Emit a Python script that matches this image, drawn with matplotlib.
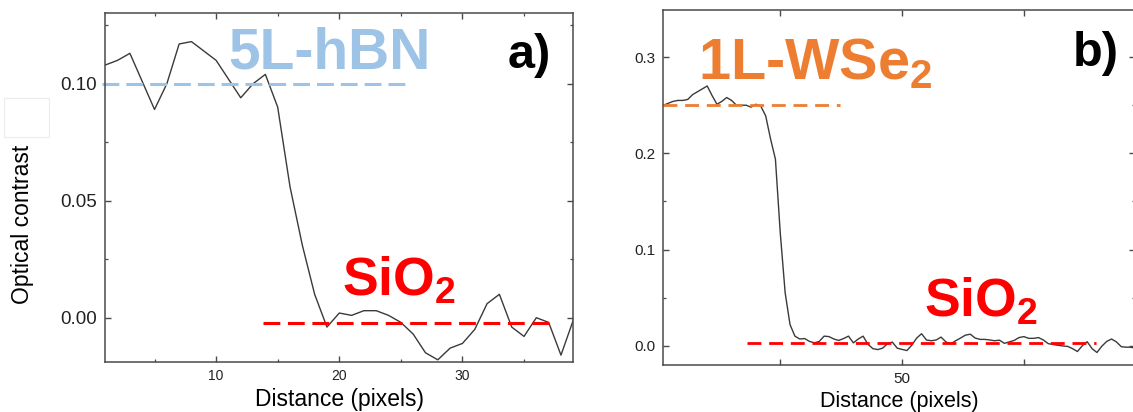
"""Optical contrast line profiles across 5L-hBN and 1L-WSe2 flake edges"""
import matplotlib
matplotlib.use('Agg')
import matplotlib.pyplot as plt
from matplotlib.ticker import MultipleLocator, FixedLocator, FixedFormatter
from matplotlib.patches import Rectangle

plt.rcParams['font.family'] = ['Liberation Sans', 'DejaVu Sans']
plt.rcParams['mathtext.fontset'] = 'custom'
plt.rcParams['mathtext.rm'] = 'Liberation Sans'
plt.rcParams['mathtext.bf'] = 'Liberation Sans:bold'

# profile a: 5L-hBN on SiO2
hbn_distance = list(range(1, 40))
hbn_contrast = [0.108, 0.110, 0.113, 0.101, 0.089, 0.100, 0.117, 0.118, 0.114, 0.110,
                0.102, 0.094, 0.100, 0.104, 0.090, 0.056, 0.031, 0.010, -0.004, 0.002,
                0.001, 0.003, 0.003, 0.001, -0.002, -0.007, -0.015, -0.018, -0.013, -0.011,
                -0.005, 0.006, 0.010, -0.004, -0.008, 0.000, -0.002, -0.016, -0.001]
hbn_level = 0.100
hbn_sio2_level = -0.0024

# profile b: 1L-WSe2 on SiO2
wse2_distance = list(range(1, 99))
wse2_contrast = [0.250, 0.252, 0.254, 0.255, 0.255, 0.256, 0.261, 0.264, 0.267, 0.270,
                 0.260, 0.251, 0.254, 0.258, 0.255, 0.250, 0.250, 0.250, 0.248, 0.251,
                 0.249, 0.239, 0.215, 0.194, 0.117, 0.055, 0.022, 0.010, 0.007, 0.0075,
                 0.0045, 0.003, 0.0045, 0.010, 0.0095, 0.007, 0.0055, 0.0075, 0.010, 0.003,
                 0.007, 0.010, 0.0015, -0.003, -0.004, -0.0025, 0.002, 0.0038, -0.0025, -0.0038,
                 -0.005, 0.0007, 0.008, 0.0125, 0.006, 0.0052, 0.006, 0.009, 0.004, 0.002,
                 0.0052, 0.008, 0.011, 0.012, 0.008, 0.0066, 0.0066, 0.006, 0.0052, 0.0058,
                 0.0025, 0.004, 0.0055, 0.0085, 0.0095, 0.0077, 0.0077, 0.0085, 0.006, 0.0022,
                 0.0013, 0.0005, -0.0002, -0.0007, -0.003, -0.006, 0.0, 0.0042, -0.003, -0.007,
                 -0.0005, 0.0045, 0.007, 0.004, -0.001, -0.0015, -0.0015, -0.003]
wse2_level = 0.250
wse2_sio2_level = 0.0025

LINE = '#3a3a3a'
SPINE = '#4a4a4a'
BLUE = '#9dc3e6'
ORANGE = '#ed7d31'
RED = '#ff0000'


def style_axes(ax, label_size):
    for s in ax.spines.values():
        s.set_color(SPINE)
        s.set_linewidth(1.1)
    ax.tick_params(which='both', direction='in', top=True, right=True,
                   color=SPINE, labelcolor='#222222', labelsize=label_size)
    ax.tick_params(which='major', length=4.5, width=1.0)
    ax.tick_params(which='minor', length=2.5, width=0.9)


fig = plt.figure(figsize=(11.33, 4.12), dpi=100)

# ---- panel a ----
ax1 = fig.add_axes([0.0929, 0.1221, 0.4131, 0.8456])
ax1.plot(hbn_distance, hbn_contrast, color=LINE, lw=1.0)
ax1.plot([0.7, 25.3], [hbn_level, hbn_level], color=BLUE, lw=2.2,
         dashes=(5.5, 2.3), clip_on=False)
ax1.plot([13.8, 37.0], [hbn_sio2_level, hbn_sio2_level], color=RED, lw=2.2,
         dashes=(5.5, 2.5))
ax1.set_xlim(1, 39)
ax1.set_ylim(-0.0188, 0.1301)
ax1.xaxis.set_major_locator(MultipleLocator(10))
ax1.xaxis.set_minor_locator(MultipleLocator(5))
ax1.yaxis.set_major_locator(MultipleLocator(0.05))
ax1.yaxis.set_minor_locator(MultipleLocator(0.025))
ax1.yaxis.set_major_formatter(matplotlib.ticker.FormatStrFormatter('%.2f'))
style_axes(ax1, 10)
ax1.tick_params(axis='y', labelsize=13.5, pad=6)
ax1.tick_params(axis='x', pad=5)
ax1.set_xlabel('Distance (pixels)', fontsize=16.5)
ax1.xaxis.set_label_coords(0.5, -0.075)
ax1.set_ylabel('Optical contrast', fontsize=16.5)
ax1.yaxis.set_label_coords(-0.153, 0.395)

ax1.text(11.0, 0.1066, '5L-hBN', color=BLUE, fontsize=41, fontweight='bold',
         ha='left', va='baseline')
ax1.text(33.66, 0.1066, 'a)', color='black', fontsize=35, fontweight='bold',
         ha='left', va='baseline')
ax1.text(20.2, 0.0097, r'SiO$_\mathbf{2}$', color=RED, fontsize=38.5,
         fontweight='bold', ha='left', va='baseline')

# faint empty frame at the far left
fig.patches.append(Rectangle((4 / 1133, 1 - 136.7 / 412), 45 / 1133, 38.4 / 412,
                             transform=fig.transFigure, fill=False,
                             edgecolor='#ececec', lw=0.8))

# ---- panel b ----
ax2 = fig.add_axes([0.5855, 0.1141, 0.4162, 0.8617])
ax2.plot(wse2_distance, wse2_contrast, color=LINE, lw=1.0)
ax2.plot([1, 37.2], [wse2_level, wse2_level], color=ORANGE, lw=2.0,
         dashes=(5, 2.8))
ax2.plot([18.2, 89.9], [wse2_sio2_level, wse2_sio2_level], color=RED, lw=2.0,
         dashes=(5, 2.8))
ax2.set_xlim(1, 97.8)
ax2.set_ylim(-0.020, 0.349)
ax2.xaxis.set_major_locator(FixedLocator([25, 50, 75]))
ax2.xaxis.set_major_formatter(FixedFormatter(['', '50', '']))
ax2.yaxis.set_major_locator(MultipleLocator(0.1))
ax2.yaxis.set_minor_locator(MultipleLocator(0.05))
ax2.yaxis.set_major_formatter(matplotlib.ticker.FormatStrFormatter('%.1f'))
style_axes(ax2, 11)
ax2.tick_params(axis='y', pad=6)
ax2.tick_params(axis='x', pad=5)
ax2.set_xlabel('Distance (pixels)', fontsize=15.5)
ax2.xaxis.set_label_coords(0.5, -0.073)

ax2.text(8.1, 0.2765, r'1L-WSe$_\mathbf{2}$', color=ORANGE, fontsize=41.5,
         fontweight='bold', ha='left', va='baseline')
ax2.text(85.1, 0.291, 'b)', color='black', fontsize=35, fontweight='bold',
         ha='left', va='baseline')
ax2.text(54.4, 0.031, r'SiO$_\mathbf{2}$', color=RED, fontsize=38.5,
         fontweight='bold', ha='left', va='baseline')

fig.savefig('out.png', dpi=100)
